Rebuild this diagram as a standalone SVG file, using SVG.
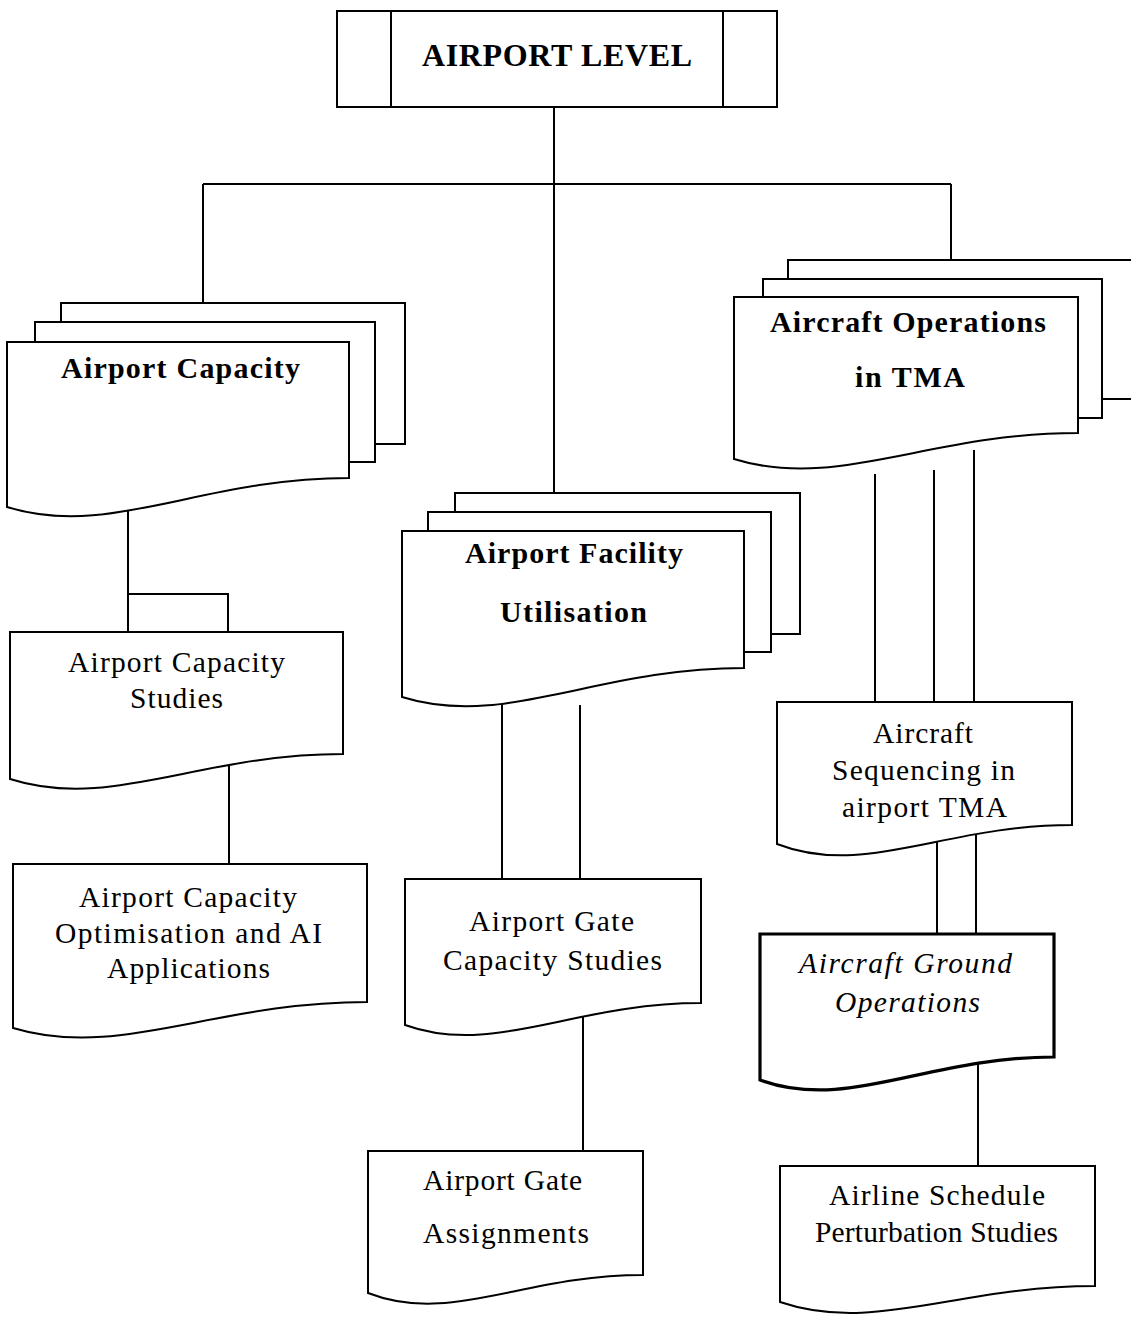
<svg xmlns="http://www.w3.org/2000/svg" width="1131" height="1318" viewBox="0 0 1131 1318">
  <style>
    .bg { fill: #ffffff; }
    .ln { fill: none; stroke: #000; stroke-width: 2; }
    .box { fill: #ffffff; stroke: #000; stroke-width: 2; stroke-linejoin: miter; }
    .thick { stroke-width: 3.2; }
    text { font-family: "Liberation Serif", "Times New Roman", serif; fill: #000; }
    .hd { font-size: 30px; font-weight: bold; }
    .top { font-size: 32px; font-weight: bold; }
    .tx { font-size: 29.5px; }
    .it { font-size: 29.5px; font-style: italic; }
  </style>
  <rect class="bg" x="0" y="0" width="1131" height="1318"/>

  <!-- connectors (drawn first so node fills hide the ends) -->
  <g id="connectors" class="ln">
    <path d="M554,107 V493"/>
    <path d="M203,184 H951"/>
    <path d="M203,184 V303"/>
    <path d="M951,184 V260"/>
    <path d="M128,500 V632"/>
    <path d="M128,594 H228 V632"/>
    <path d="M229,750 V864"/>
    <path d="M502,690 V879"/>
    <path d="M580,705 V879"/>
    <path d="M583,1010 V1151"/>
    <path d="M875,474 V702"/>
    <path d="M934,470 V702"/>
    <path d="M974,450 V702"/>
    <path d="M937,830 V934"/>
    <path d="M976,826 V934"/>
    <path d="M978,1060 V1166"/>
  </g>

  <!-- root -->
  <g id="airport-level">
    <rect class="box" x="337" y="11" width="440" height="96"/>
    <path class="ln" d="M391,11 V107 M723,11 V107"/>
    <text class="top" x="422" y="66" textLength="270" lengthAdjust="spacing">AIRPORT LEVEL</text>
  </g>

  <!-- multi-document: Airport Capacity -->
  <g id="airport-capacity">
    <rect class="box" x="61" y="303" width="344" height="141"/>
    <rect class="box" x="35" y="322" width="340" height="140"/>
    <path class="box" d="M7,342 H349 V478 C200,478 110,539 7,507 Z"/>
    <text class="hd" x="61" y="378" textLength="239" lengthAdjust="spacing">Airport Capacity</text>
  </g>

  <!-- multi-document: Airport Facility Utilisation -->
  <g id="airport-facility">
    <rect class="box" x="455" y="493" width="345" height="141"/>
    <rect class="box" x="428" y="512" width="343" height="140"/>
    <path class="box" d="M402,531 H744 V668 C595,668 505,729 402,697 Z"/>
    <text class="hd" x="465" y="563" textLength="218" lengthAdjust="spacing">Airport Facility</text>
    <text class="hd" x="500" y="622" textLength="147" lengthAdjust="spacing">Utilisation</text>
  </g>

  <!-- multi-document: Aircraft Operations in TMA -->
  <g id="aircraft-operations">
    <rect class="box" x="788" y="260" width="360" height="139"/>
    <rect class="box" x="763" y="279" width="339" height="139"/>
    <path class="box" d="M734,297 H1078 V433 C928,433 837,491 734,459 Z"/>
    <text class="hd" x="770" y="332" textLength="276" lengthAdjust="spacing">Aircraft Operations</text>
    <text class="hd" x="855" y="387" textLength="110" lengthAdjust="spacing">in TMA</text>
  </g>

  <g id="capacity-studies">
    <path class="box" d="M10,632 H343 V754 C198,754 110,811 10,779 Z"/>
    <text class="tx" x="68" y="672" textLength="217" lengthAdjust="spacing">Airport Capacity</text>
    <text class="tx" x="130" y="708" textLength="93" lengthAdjust="spacing">Studies</text>
  </g>

  <g id="capacity-optimisation">
    <path class="box" d="M13,864 H367 V1002 C213,1002 119,1060 13,1028 Z"/>
    <text class="tx" x="79" y="907" textLength="218" lengthAdjust="spacing">Airport Capacity</text>
    <text class="tx" x="55" y="943" textLength="267" lengthAdjust="spacing">Optimisation and AI</text>
    <text class="tx" x="107" y="978" textLength="163" lengthAdjust="spacing">Applications</text>
  </g>

  <g id="gate-capacity">
    <path class="box" d="M405,879 H701 V1003 C572,1003 494,1057 405,1025 Z"/>
    <text class="tx" x="469" y="931" textLength="165" lengthAdjust="spacing">Airport Gate</text>
    <text class="tx" x="443" y="970" textLength="219" lengthAdjust="spacing">Capacity Studies</text>
  </g>

  <g id="gate-assignments">
    <path class="box" d="M368,1151 H643 V1275 C523,1275 450,1325 368,1293 Z"/>
    <text class="tx" x="423" y="1190" textLength="159" lengthAdjust="spacing">Airport Gate</text>
    <text class="tx" x="423" y="1243" textLength="166" lengthAdjust="spacing">Assignments</text>
  </g>

  <g id="aircraft-sequencing">
    <path class="box" d="M777,702 H1072 V825 C943,825 865,878 777,844 Z"/>
    <text class="tx" x="873" y="743" textLength="100" lengthAdjust="spacing">Aircraft</text>
    <text class="tx" x="832" y="780" textLength="183" lengthAdjust="spacing">Sequencing in</text>
    <text class="tx" x="842" y="817" textLength="165" lengthAdjust="spacing">airport TMA</text>
  </g>

  <g id="ground-operations">
    <path class="box thick" d="M760,934 H1054 V1057 C926,1057 848,1112 760,1080 Z"/>
    <text class="it" x="799" y="973" textLength="213" lengthAdjust="spacing">Aircraft Ground</text>
    <text class="it" x="835" y="1012" textLength="145" lengthAdjust="spacing">Operations</text>
  </g>

  <g id="schedule-perturbation">
    <path class="box" d="M780,1166 H1095 V1286 C957,1286 874,1334 780,1302 Z"/>
    <text class="tx" x="829" y="1205" textLength="216" lengthAdjust="spacing">Airline Schedule</text>
    <text class="tx" x="815" y="1242" textLength="243" lengthAdjust="spacing">Perturbation Studies</text>
  </g>
</svg>
